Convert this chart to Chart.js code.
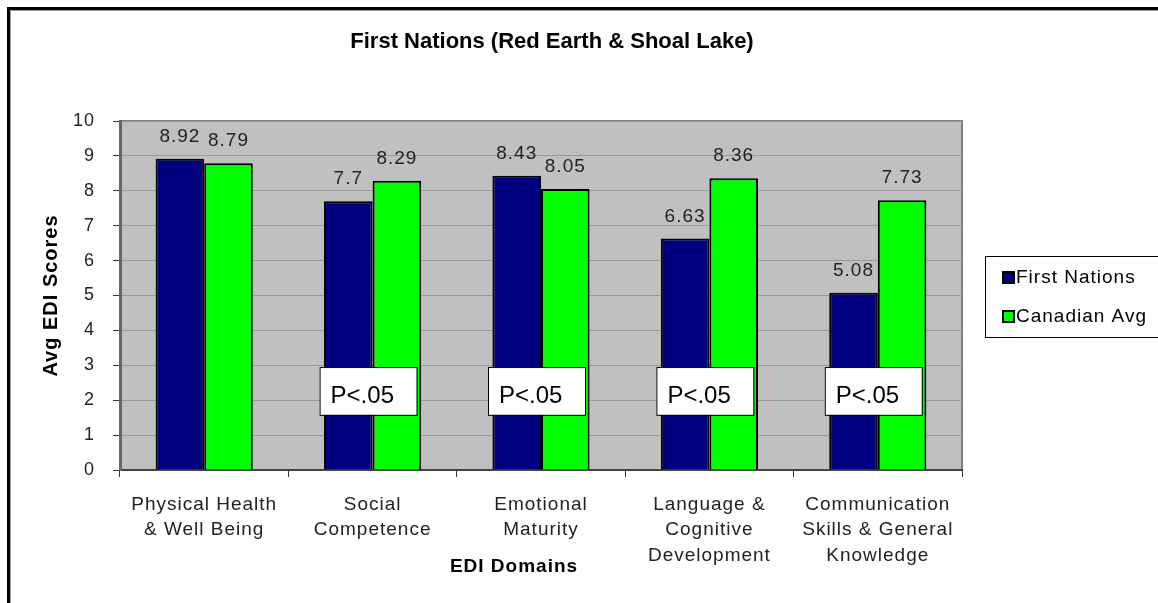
<!DOCTYPE html>
<html>
<head>
<meta charset="utf-8">
<script src="https://cdn.jsdelivr.net/npm/chart.js@4"></script>
<style>
  html, body { margin: 0; padding: 0; background: #fff; }
  #wrap { width: 1158px; height: 603px; }
</style>
</head>
<body>
<div id="wrap"><canvas id="chart" width="1158" height="603"></canvas></div>
<script>
const categories = [
    ['Physical Health', '& Well Being'],
    ['Social', 'Competence'],
    ['Emotional', 'Maturity'],
    ['Language &', 'Cognitive', 'Development'],
    ['Communication', 'Skills & General', 'Knowledge']
];
const firstNations = [8.92, 7.7, 8.43, 6.63, 5.08];
const canadianAvg = [8.79, 8.29, 8.05, 8.36, 7.73];
const yTicks = [0, 1, 2, 3, 4, 5, 6, 7, 8, 9, 10];
const pNotes = ['', 'P<.05', 'P<.05', 'P<.05', 'P<.05'];

const FONT = "'Liberation Sans', Arial, sans-serif";

// the old Excel text is drawn a bit wider than Arial, so open it up slightly
const spacing = {
    id: 'spacing',
    beforeLayout(chart) { chart.ctx.letterSpacing = '1px'; },
    beforeDraw(chart) { chart.ctx.letterSpacing = '1px'; }
};

// frame, plot background, titles, value labels, notes and legend
const decor = {
    id: 'decor',
    beforeDraw(chart) {
        const { ctx, chartArea: a } = chart;
        ctx.save();
        ctx.fillStyle = '#fff';
        ctx.fillRect(0, 0, chart.width, chart.height);
        // outer frame (only left/top visible)
        ctx.fillStyle = '#000';
        ctx.fillRect(7, 7, 3, chart.height);
        ctx.fillRect(7, 7, chart.width, 3);
        ctx.fillStyle = '#a0a0a0';
        ctx.fillRect(10, 10, 1, chart.height);
        ctx.fillRect(10, 10, chart.width, 1);
        // plot area
        ctx.fillStyle = '#c0c0c0';
        ctx.fillRect(a.left, a.top, a.right - a.left, a.bottom - a.top);
        ctx.strokeStyle = '#808080';
        ctx.lineWidth = 2;
        ctx.strokeRect(a.left, a.top, a.right - a.left, a.bottom - a.top);
        // title
        ctx.letterSpacing = '0px';
        ctx.fillStyle = '#000';
        ctx.font = 'bold 22px ' + FONT;
        ctx.textAlign = 'center';
        ctx.textBaseline = 'middle';
        ctx.fillText('First Nations (Red Earth & Shoal Lake)', 552, 42);
        ctx.restore();
    },
    afterDraw(chart) {
        const { ctx, chartArea: a } = chart;
        const x = chart.scales.x, y = chart.scales.y;
        ctx.save();
        ctx.letterSpacing = '1px';
        // value labels
        ctx.font = '19px ' + FONT;
        ctx.fillStyle = '#222';
        ctx.textAlign = 'center';
        ctx.textBaseline = 'alphabetic';
        chart.data.datasets.forEach((ds, i) => {
            chart.getDatasetMeta(i).data.forEach((bar, j) => {
                ctx.fillText(String(ds.data[j]), bar.x, bar.y - 17);
            });
        });
        // x axis title
        ctx.font = 'bold 19px ' + FONT;
        ctx.fillStyle = '#000';
        ctx.textBaseline = 'middle';
        ctx.fillText('EDI Domains', (a.left + a.right) / 2 - 27, 567);
        // P notes
        ctx.letterSpacing = '0px';
        pNotes.forEach((t, i) => {
            if (!t) return;
            const cx = x.getPixelForValue(i);
            const top = y.getPixelForValue(2.95), bot = y.getPixelForValue(1.58);
            ctx.fillStyle = '#fff';
            ctx.fillRect(cx - 53, top, 97, bot - top);
            ctx.strokeStyle = '#000';
            ctx.lineWidth = 1;
            ctx.strokeRect(cx - 53 + 0.5, top + 0.5, 97, bot - top);
            ctx.fillStyle = '#000';
            ctx.font = '24px ' + FONT;
            ctx.textAlign = 'left';
            ctx.textBaseline = 'alphabetic';
            ctx.fillText(t, cx - 42, bot - 12);
        });
        // legend
        ctx.letterSpacing = '1px';
        ctx.fillStyle = '#fff';
        ctx.fillRect(985, 256, 200, 81);
        ctx.strokeStyle = '#000';
        ctx.lineWidth = 1;
        ctx.strokeRect(985.5, 256.5, 200, 81);
        ctx.font = '19px ' + FONT;
        ctx.textAlign = 'left';
        ctx.textBaseline = 'middle';
        const rows = [277, 316];
        chart.data.datasets.forEach((ds, i) => {
            ctx.fillStyle = ds.backgroundColor;
            ctx.fillRect(1003, rows[i] - 5, 11, 11);
            ctx.strokeStyle = '#000';
            ctx.lineWidth = 2;
            ctx.strokeRect(1003, rows[i] - 5, 11, 11);
            ctx.fillStyle = '#000';
            ctx.fillText(ds.label, 1016, rows[i] + 1);
        });
        ctx.restore();
    }
};

new Chart(document.getElementById('chart'), {
    type: 'bar',
    data: {
        labels: categories,
        datasets: [
            {
                label: 'First Nations',
                data: firstNations,
                backgroundColor: '#000080',
                borderColor: '#000',
                borderWidth: 2
            },
            {
                label: 'Canadian Avg',
                data: canadianAvg,
                backgroundColor: '#00ff00',
                borderColor: '#000',
                borderWidth: 2
            }
        ]
    },
    options: {
        responsive: false,
        animation: false,
        devicePixelRatio: 1,
        categoryPercentage: 0.577,
        barPercentage: 1,
        layout: { padding: { left: 0, right: 196, top: 121, bottom: 0 } },
        plugins: {
            legend: { display: false },
            title: { display: false },
            tooltip: { enabled: false }
        },
        scales: {
            x: {
                grid: { display: true, drawOnChartArea: false, tickLength: 7, tickColor: '#333', offset: true },
                border: { color: '#444', width: 2 },
                ticks: {
                    color: '#222',
                    padding: 15,
                    maxRotation: 0,
                    autoSkip: false,
                    font: { family: FONT, size: 19, lineHeight: 1.34 }
                },
                afterFit(s) { s.height = 133; }
            },
            y: {
                min: 0,
                max: 10,
                afterBuildTicks(s) { s.ticks = yTicks.map(v => ({ value: v })); },
                grid: { color: '#999', lineWidth: 1, tickLength: 7, tickColor: '#333' },
                border: { color: '#666', width: 3 },
                ticks: {
                    color: '#222',
                    padding: 18,
                    font: { family: FONT, size: 18 }
                },
                title: {
                    display: true,
                    text: 'Avg EDI Scores',
                    color: '#000',
                    padding: { top: 39, bottom: 0 },
                    font: { family: FONT, size: 20, weight: 'bold' }
                },
                afterFit(s) { s.width = 120; }
            }
        }
    },
    plugins: [spacing, decor]
});
</script>
</body>
</html>
